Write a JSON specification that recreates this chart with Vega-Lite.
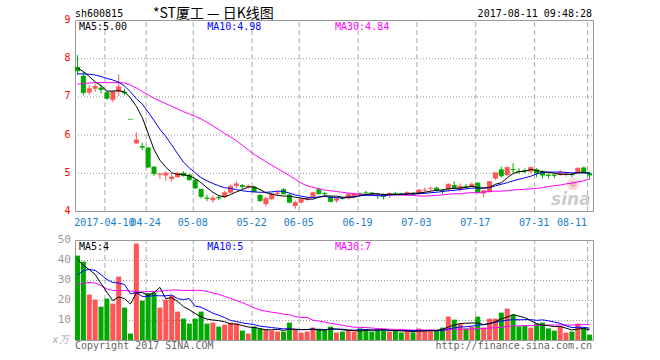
{
"$schema": "https://vega.github.io/schema/vega-lite/v6.json",
"autosize": {"type": "none"},
"width": 528,
"height": 320,
"padding": {"left": 70, "top": 20, "right": 62, "bottom": 20},
"background": "white",
"config": {
  "view": {"stroke": null},
  "font": "DejaVu Sans Mono",
  "axis": {"labelFont": "DejaVu Sans Mono", "labelFontSize": 10, "ticks": false, "domain": false}
},
"datasets": {
"grid": [
{"g":5,"lab":"2017-04-10"},{"g":12,"lab":"04-24"},{"g":20,"lab":"05-08"},{"g":30,"lab":"05-22"},{"g":38,"lab":"06-05"},
{"g":48,"lab":"06-19"},{"g":58,"lab":"07-03"},{"g":68,"lab":"07-17"},{"g":78,"lab":"07-31"},{"g":87,"lab":"08-11"}
],
"vt": [{"t":10},{"t":20},{"t":30},{"t":40},{"t":50}],
"pt": [{"p":4},{"p":5},{"p":6},{"p":7},{"p":8},{"p":9}],
"k": [
{"i":0,"o":7.77,"h":8.08,"l":7.56,"c":7.67,"dir":"d","v":42.2,"m5":7.74,"m10":7.59,"m30":7.32,"v5":40.2,"v10":32.5,"v30":27.7},
{"i":1,"o":7.54,"h":7.64,"l":7.03,"c":7.10,"dir":"d","v":39.2,"m5":7.65,"m10":7.59,"m30":7.33,"v5":37.3,"v10":34.7,"v30":28.3},
{"i":2,"o":7.10,"h":7.29,"l":7.04,"c":7.20,"dir":"u","v":22.7,"m5":7.52,"m10":7.58,"m30":7.35,"v5":35.2,"v10":35.3,"v30":28.8},
{"i":3,"o":7.20,"h":7.34,"l":7.12,"c":7.26,"dir":"u","v":20.2,"m5":7.38,"m10":7.56,"m30":7.36,"v5":32.7,"v10":34.8,"v30":28.5},
{"i":4,"o":7.23,"h":7.31,"l":7.08,"c":7.18,"dir":"d","v":16.7,"m5":7.28,"m10":7.52,"m30":7.36,"v5":28.2,"v10":32.7,"v30":27.2},
{"i":5,"o":7.11,"h":7.14,"l":6.91,"c":6.95,"dir":"d","v":20.7,"m5":7.14,"m10":7.47,"m30":7.36,"v5":23.9,"v10":30.2,"v30":25.5},
{"i":6,"o":6.91,"h":7.14,"l":6.85,"c":7.12,"dir":"u","v":18.2,"m5":7.14,"m10":7.43,"m30":7.36,"v5":19.7,"v10":28.8,"v30":24.8},
{"i":7,"o":7.12,"h":7.58,"l":7.01,"c":7.25,"dir":"u","v":31.7,"m5":7.15,"m10":7.37,"m30":7.36,"v5":21.5,"v10":28.5,"v30":24.7},
{"i":8,"o":7.12,"h":7.20,"l":7.03,"c":7.09,"dir":"d","v":16.2,"m5":7.12,"m10":7.27,"m30":7.35,"v5":20.7,"v10":27.7,"v30":24.7},
{"i":9,"o":6.40,"h":6.40,"l":6.40,"c":6.40,"dir":"d","v":3.2,"m5":6.96,"m10":7.12,"m30":7.30,"v5":18.0,"v10":23.1,"v30":24.5},
{"i":10,"o":5.77,"h":6.06,"l":5.76,"c":5.86,"dir":"u","v":48.2,"m5":6.74,"m10":6.94,"m30":7.22,"v5":23.5,"v10":23.7,"v30":24.2},
{"i":11,"o":5.70,"h":5.79,"l":5.60,"c":5.67,"dir":"d","v":19.7,"m5":6.45,"m10":6.80,"m30":7.13,"v5":23.8,"v10":21.8,"v30":24.0},
{"i":12,"o":5.66,"h":5.68,"l":5.12,"c":5.15,"dir":"d","v":23.5,"m5":6.03,"m10":6.59,"m30":7.04,"v5":22.2,"v10":21.8,"v30":24.2},
{"i":13,"o":5.16,"h":5.18,"l":4.92,"c":4.98,"dir":"d","v":23.8,"m5":5.61,"m10":6.37,"m30":6.95,"v5":23.7,"v10":22.2,"v30":24.3},
{"i":14,"o":4.95,"h":5.00,"l":4.83,"c":4.97,"dir":"u","v":16.2,"m5":5.33,"m10":6.14,"m30":6.88,"v5":26.3,"v10":22.1,"v30":24.5},
{"i":15,"o":4.93,"h":5.04,"l":4.79,"c":4.99,"dir":"u","v":20.2,"m5":5.15,"m10":5.95,"m30":6.81,"v5":20.7,"v10":22.1,"v30":24.7},
{"i":16,"o":4.84,"h":4.98,"l":4.77,"c":4.89,"dir":"u","v":22.2,"m5":5.00,"m10":5.73,"m30":6.74,"v5":21.2,"v10":22.5,"v30":25.0},
{"i":17,"o":4.89,"h":5.02,"l":4.86,"c":4.99,"dir":"u","v":14.2,"m5":4.96,"m10":5.50,"m30":6.67,"v5":19.3,"v10":20.7,"v30":25.0},
{"i":18,"o":5.00,"h":5.04,"l":4.90,"c":4.93,"dir":"d","v":10.7,"m5":4.95,"m10":5.28,"m30":6.60,"v5":16.7,"v10":20.2,"v30":24.8},
{"i":19,"o":4.95,"h":4.97,"l":4.79,"c":4.82,"dir":"d","v":8.2,"m5":4.92,"m10":5.13,"m30":6.54,"v5":15.1,"v10":20.7,"v30":24.8},
{"i":20,"o":4.82,"h":4.84,"l":4.58,"c":4.60,"dir":"d","v":10.7,"m5":4.85,"m10":5.00,"m30":6.48,"v5":13.2,"v10":16.9,"v30":24.8},
{"i":21,"o":4.58,"h":4.58,"l":4.33,"c":4.38,"dir":"d","v":14.2,"m5":4.74,"m10":4.87,"m30":6.41,"v5":11.6,"v10":16.4,"v30":24.8},
{"i":22,"o":4.35,"h":4.43,"l":4.26,"c":4.33,"dir":"d","v":8.2,"m5":4.61,"m10":4.79,"m30":6.32,"v5":10.4,"v10":14.9,"v30":24.3},
{"i":23,"o":4.28,"h":4.40,"l":4.22,"c":4.34,"dir":"u","v":8.7,"m5":4.49,"m10":4.72,"m30":6.23,"v5":10.0,"v10":13.4,"v30":23.5},
{"i":24,"o":4.36,"h":4.40,"l":4.28,"c":4.34,"dir":"d","v":6.7,"m5":4.40,"m10":4.66,"m30":6.13,"v5":9.7,"v10":12.4,"v30":22.8},
{"i":25,"o":4.36,"h":4.53,"l":4.33,"c":4.48,"dir":"u","v":7.7,"m5":4.37,"m10":4.61,"m30":6.03,"v5":9.1,"v10":11.2,"v30":21.8},
{"i":26,"o":4.48,"h":4.69,"l":4.46,"c":4.65,"dir":"u","v":8.7,"m5":4.43,"m10":4.59,"m30":5.94,"v5":8.0,"v10":9.8,"v30":20.8},
{"i":27,"o":4.66,"h":4.78,"l":4.60,"c":4.71,"dir":"u","v":8.2,"m5":4.50,"m10":4.56,"m30":5.84,"v5":8.0,"v10":9.2,"v30":19.8},
{"i":28,"o":4.68,"h":4.71,"l":4.58,"c":4.64,"dir":"d","v":4.7,"m5":4.56,"m10":4.53,"m30":5.72,"v5":7.2,"v10":8.6,"v30":18.7},
{"i":29,"o":4.62,"h":4.70,"l":4.59,"c":4.65,"dir":"u","v":3.2,"m5":4.63,"m10":4.51,"m30":5.60,"v5":6.5,"v10":8.1,"v30":17.4},
{"i":30,"o":4.64,"h":4.66,"l":4.48,"c":4.51,"dir":"d","v":6.7,"m5":4.63,"m10":4.50,"m30":5.48,"v5":6.3,"v10":7.7,"v30":16.1},
{"i":31,"o":4.42,"h":4.44,"l":4.24,"c":4.27,"dir":"d","v":5.7,"m5":4.56,"m10":4.49,"m30":5.39,"v5":5.7,"v10":6.9,"v30":15.0},
{"i":32,"o":4.18,"h":4.37,"l":4.12,"c":4.33,"dir":"u","v":5.2,"m5":4.48,"m10":4.49,"m30":5.29,"v5":5.1,"v10":6.6,"v30":14.4},
{"i":33,"o":4.31,"h":4.48,"l":4.28,"c":4.45,"dir":"u","v":4.7,"m5":4.44,"m10":4.50,"m30":5.20,"v5":5.1,"v10":6.2,"v30":13.9},
{"i":34,"o":4.45,"h":4.53,"l":4.40,"c":4.47,"dir":"u","v":4.2,"m5":4.41,"m10":4.52,"m30":5.11,"v5":5.3,"v10":5.9,"v30":13.5},
{"i":35,"o":4.57,"h":4.60,"l":4.43,"c":4.45,"dir":"d","v":4.2,"m5":4.39,"m10":4.51,"m30":5.02,"v5":4.8,"v10":5.6,"v30":12.9},
{"i":36,"o":4.43,"h":4.45,"l":4.20,"c":4.23,"dir":"d","v":8.7,"m5":4.39,"m10":4.47,"m30":4.93,"v5":5.4,"v10":5.6,"v30":12.6},
{"i":37,"o":4.13,"h":4.27,"l":4.06,"c":4.22,"dir":"u","v":5.2,"m5":4.36,"m10":4.42,"m30":4.83,"v5":5.4,"v10":5.3,"v30":11.7},
{"i":38,"o":4.22,"h":4.34,"l":4.20,"c":4.31,"dir":"u","v":3.7,"m5":4.34,"m10":4.39,"m30":4.73,"v5":5.2,"v10":5.2,"v30":11.3},
{"i":39,"o":4.30,"h":4.36,"l":4.27,"c":4.33,"dir":"u","v":4.2,"m5":4.31,"m10":4.36,"m30":4.66,"v5":5.2,"v10":5.3,"v30":11.3},
{"i":40,"o":4.37,"h":4.50,"l":4.33,"c":4.48,"dir":"u","v":6.2,"m5":4.31,"m10":4.35,"m30":4.62,"v5":5.6,"v10":5.2,"v30":9.9},
{"i":41,"o":4.57,"h":4.60,"l":4.43,"c":4.45,"dir":"d","v":5.7,"m5":4.36,"m10":4.37,"m30":4.58,"v5":5.0,"v10":5.2,"v30":9.5},
{"i":42,"o":4.47,"h":4.50,"l":4.38,"c":4.45,"dir":"d","v":5.2,"m5":4.40,"m10":4.38,"m30":4.55,"v5":5.0,"v10":5.2,"v30":8.9},
{"i":43,"o":4.37,"h":4.40,"l":4.22,"c":4.25,"dir":"d","v":6.7,"m5":4.39,"m10":4.36,"m30":4.53,"v5":5.6,"v10":5.4,"v30":8.3},
{"i":44,"o":4.27,"h":4.36,"l":4.22,"c":4.32,"dir":"u","v":3.7,"m5":4.39,"m10":4.35,"m30":4.51,"v5":5.5,"v10":5.4,"v30":7.9},
{"i":45,"o":4.35,"h":4.37,"l":4.30,"c":4.33,"dir":"d","v":4.2,"m5":4.36,"m10":4.34,"m30":4.49,"v5":5.1,"v10":5.4,"v30":7.4},
{"i":46,"o":4.33,"h":4.48,"l":4.30,"c":4.44,"dir":"u","v":4.8,"m5":4.36,"m10":4.36,"m30":4.47,"v5":4.9,"v10":5.0,"v30":6.8},
{"i":47,"o":4.39,"h":4.48,"l":4.35,"c":4.46,"dir":"u","v":4.2,"m5":4.36,"m10":4.38,"m30":4.45,"v5":4.7,"v10":4.9,"v30":6.4},
{"i":48,"o":4.46,"h":4.48,"l":4.40,"c":4.44,"dir":"d","v":5.8,"m5":4.40,"m10":4.40,"m30":4.44,"v5":4.5,"v10":5.1,"v30":6.3},
{"i":49,"o":4.48,"h":4.53,"l":4.42,"c":4.47,"dir":"d","v":5.5,"m5":4.43,"m10":4.41,"m30":4.43,"v5":4.9,"v10":5.2,"v30":6.2},
{"i":50,"o":4.48,"h":4.50,"l":4.42,"c":4.44,"dir":"d","v":4.2,"m5":4.45,"m10":4.41,"m30":4.42,"v5":4.9,"v10":5.0,"v30":6.0},
{"i":51,"o":4.45,"h":4.47,"l":4.32,"c":4.43,"dir":"d","v":5.2,"m5":4.45,"m10":4.40,"m30":4.42,"v5":5.0,"v10":5.0,"v30":5.7},
{"i":52,"o":4.42,"h":4.46,"l":4.30,"c":4.38,"dir":"d","v":5.2,"m5":4.43,"m10":4.40,"m30":4.42,"v5":5.2,"v10":5.0,"v30":5.6},
{"i":53,"o":4.41,"h":4.48,"l":4.35,"c":4.46,"dir":"u","v":4.2,"m5":4.44,"m10":4.42,"m30":4.42,"v5":4.9,"v10":4.7,"v30":5.4},
{"i":54,"o":4.47,"h":4.50,"l":4.43,"c":4.45,"dir":"d","v":4.5,"m5":4.43,"m10":4.43,"m30":4.42,"v5":4.7,"v10":4.8,"v30":5.3},
{"i":55,"o":4.46,"h":4.48,"l":4.42,"c":4.44,"dir":"d","v":3.8,"m5":4.43,"m10":4.44,"m30":4.42,"v5":4.6,"v10":4.7,"v30":5.2},
{"i":56,"o":4.44,"h":4.51,"l":4.42,"c":4.49,"dir":"u","v":4.8,"m5":4.44,"m10":4.45,"m30":4.41,"v5":4.5,"v10":4.7,"v30":5.1},
{"i":57,"o":4.48,"h":4.49,"l":4.43,"c":4.44,"dir":"d","v":3.8,"m5":4.46,"m10":4.44,"m30":4.41,"v5":4.2,"v10":4.7,"v30":4.9},
{"i":58,"o":4.44,"h":4.57,"l":4.42,"c":4.55,"dir":"u","v":5.7,"m5":4.47,"m10":4.46,"m30":4.39,"v5":4.5,"v10":4.7,"v30":5.0},
{"i":59,"o":4.54,"h":4.61,"l":4.48,"c":4.55,"dir":"u","v":4.8,"m5":4.49,"m10":4.46,"m30":4.39,"v5":4.6,"v10":4.6,"v30":5.0},
{"i":60,"o":4.58,"h":4.64,"l":4.53,"c":4.59,"dir":"u","v":4.8,"m5":4.52,"m10":4.48,"m30":4.40,"v5":4.8,"v10":4.7,"v30":5.0},
{"i":61,"o":4.61,"h":4.64,"l":4.51,"c":4.55,"dir":"d","v":4.8,"m5":4.54,"m10":4.49,"m30":4.41,"v5":4.8,"v10":4.6,"v30":4.9},
{"i":62,"o":4.54,"h":4.57,"l":4.44,"c":4.53,"dir":"d","v":6.2,"m5":4.55,"m10":4.51,"m30":4.42,"v5":5.3,"v10":4.7,"v30":5.0},
{"i":63,"o":4.57,"h":4.72,"l":4.51,"c":4.70,"dir":"u","v":11.7,"m5":4.58,"m10":4.53,"m30":4.44,"v5":6.5,"v10":5.5,"v30":5.2},
{"i":64,"o":4.68,"h":4.77,"l":4.57,"c":4.59,"dir":"d","v":10.2,"m5":4.59,"m10":4.54,"m30":4.45,"v5":7.5,"v10":6.1,"v30":5.4},
{"i":65,"o":4.55,"h":4.72,"l":4.51,"c":4.65,"dir":"u","v":8.2,"m5":4.60,"m10":4.56,"m30":4.45,"v5":8.2,"v10":6.5,"v30":5.5},
{"i":66,"o":4.65,"h":4.71,"l":4.57,"c":4.63,"dir":"d","v":5.8,"m5":4.62,"m10":4.58,"m30":4.47,"v5":8.4,"v10":6.6,"v30":5.4},
{"i":67,"o":4.64,"h":4.75,"l":4.63,"c":4.70,"dir":"u","v":6.5,"m5":4.65,"m10":4.60,"m30":4.48,"v5":8.5,"v10":6.9,"v30":5.5},
{"i":68,"o":4.74,"h":4.75,"l":4.47,"c":4.48,"dir":"d","v":11.7,"m5":4.61,"m10":4.60,"m30":4.48,"v5":8.5,"v10":7.5,"v30":5.7},
{"i":69,"o":4.46,"h":4.55,"l":4.36,"c":4.53,"dir":"u","v":6.2,"m5":4.60,"m10":4.60,"m30":4.50,"v5":7.7,"v10":7.6,"v30":5.8},
{"i":70,"o":4.51,"h":4.78,"l":4.48,"c":4.77,"dir":"u","v":10.7,"m5":4.62,"m10":4.61,"m30":4.51,"v5":8.2,"v10":8.2,"v30":6.0},
{"i":71,"o":4.85,"h":5.00,"l":4.81,"c":5.00,"dir":"u","v":10.7,"m5":4.70,"m10":4.66,"m30":4.52,"v5":9.2,"v10":8.8,"v30":6.1},
{"i":72,"o":5.09,"h":5.16,"l":4.88,"c":4.92,"dir":"d","v":13.7,"m5":4.74,"m10":4.70,"m30":4.52,"v5":10.6,"v10":9.5,"v30":6.4},
{"i":73,"o":4.94,"h":5.16,"l":4.92,"c":5.14,"dir":"u","v":15.7,"m5":4.87,"m10":4.74,"m30":4.53,"v5":11.4,"v10":9.9,"v30":6.7},
{"i":74,"o":5.10,"h":5.25,"l":4.99,"c":5.08,"dir":"d","v":12.7,"m5":4.98,"m10":4.79,"m30":4.55,"v5":12.7,"v10":10.2,"v30":7.0},
{"i":75,"o":5.05,"h":5.12,"l":4.97,"c":5.03,"dir":"d","v":6.8,"m5":5.03,"m10":4.83,"m30":4.56,"v5":11.9,"v10":10.1,"v30":7.1},
{"i":76,"o":5.07,"h":5.12,"l":4.99,"c":5.05,"dir":"d","v":7.2,"m5":5.04,"m10":4.87,"m30":4.57,"v5":11.2,"v10":10.2,"v30":7.2},
{"i":77,"o":5.03,"h":5.16,"l":5.00,"c":5.14,"dir":"u","v":6.2,"m5":5.09,"m10":4.91,"m30":4.58,"v5":9.7,"v10":10.2,"v30":7.2},
{"i":78,"o":5.09,"h":5.12,"l":4.88,"c":4.99,"dir":"d","v":8.2,"m5":5.06,"m10":4.97,"m30":4.59,"v5":8.2,"v10":9.8,"v30":7.3},
{"i":79,"o":5.03,"h":5.07,"l":4.85,"c":4.94,"dir":"d","v":8.7,"m5":5.03,"m10":5.01,"m30":4.61,"v5":7.4,"v10":10.1,"v30":7.4},
{"i":80,"o":4.95,"h":4.99,"l":4.85,"c":4.93,"dir":"d","v":5.8,"m5":5.01,"m10":5.02,"m30":4.64,"v5":7.2,"v10":9.6,"v30":7.5},
{"i":81,"o":4.95,"h":4.99,"l":4.86,"c":4.93,"dir":"d","v":4.7,"m5":4.99,"m10":5.02,"m30":4.66,"v5":6.7,"v10":9.0,"v30":7.5},
{"i":82,"o":4.94,"h":5.07,"l":4.92,"c":5.01,"dir":"u","v":6.8,"m5":4.96,"m10":5.02,"m30":4.68,"v5":6.8,"v10":8.3,"v30":7.5},
{"i":83,"o":4.96,"h":5.03,"l":4.90,"c":4.98,"dir":"u","v":3.7,"m5":4.96,"m10":5.01,"m30":4.71,"v5":5.9,"v10":7.1,"v30":7.5},
{"i":84,"o":4.97,"h":5.00,"l":4.88,"c":4.95,"dir":"d","v":4.2,"m5":4.96,"m10":5.00,"m30":4.73,"v5":5.0,"v10":6.2,"v30":7.5},
{"i":85,"o":5.00,"h":5.14,"l":4.99,"c":5.12,"dir":"u","v":8.2,"m5":5.00,"m10":5.00,"m30":4.76,"v5":5.5,"v10":6.4,"v30":7.6},
{"i":86,"o":5.14,"h":5.16,"l":4.99,"c":5.00,"dir":"d","v":6.2,"m5":5.01,"m10":5.00,"m30":4.79,"v5":5.8,"v10":6.3,"v30":7.7},
{"i":87,"o":4.99,"h":5.03,"l":4.83,"c":4.94,"dir":"d","v":2.7,"m5":5.00,"m10":4.98,"m30":4.84,"v5":5.0,"v10":5.9,"v30":7.7}
]},
"resolve": {"scale": {"y": "independent"}},
"layer": [
{
  "layer": [
    {"data": {"name": "grid"},
     "mark": {"type": "rule", "color": "#aaaaaa", "strokeDash": [5, 3], "strokeWidth": 1, "xOffset": 0.5},
     "encoding": {
       "x": {"field": "g", "type": "quantitative", "scale": {"domain": [0, 88], "nice": false, "zero": false}, "axis": null},
       "y": {"datum": 4, "type": "quantitative", "scale": {"domain": [0.6230366, 9], "nice": false, "zero": false}, "axis": null},
       "y2": {"datum": 9}
     }},
    {"data": {"name": "pt"},
     "transform": [{"filter": "datum.p > 4 && datum.p < 9"}],
     "mark": {"type": "rule", "color": "#999999", "strokeDash": [1, 2], "strokeWidth": 1, "yOffset": 0.5},
     "encoding": {
       "x": {"datum": 0, "type": "quantitative", "scale": {"domain": [0, 88], "nice": false, "zero": false}, "axis": null},
       "x2": {"datum": 88},
       "y": {"field": "p", "type": "quantitative", "scale": {"domain": [0.6230366, 9], "nice": false, "zero": false}, "axis": null}
     }},
    {"data": {"name": "pt"},
     "mark": {"type": "text", "align": "right", "baseline": "middle", "fontSize": 10, "font": "DejaVu Sans Mono", "color": "#ff0000"},
     "encoding": {
       "x": {"datum": -0.75, "type": "quantitative", "scale": {"domain": [0, 88], "nice": false, "zero": false}, "axis": null},
       "y": {"field": "p", "type": "quantitative", "scale": {"domain": [0.6230366, 9], "nice": false, "zero": false}, "axis": null},
       "text": {"field": "p", "type": "quantitative"}
     }},
    {"data": {"values": [{}]},
     "mark": {"type": "rect", "fill": null, "fillOpacity": 0, "stroke": "#999999", "strokeWidth": 1, "xOffset": 0.5, "x2Offset": 0.5, "yOffset": 0.5, "y2Offset": 0.5},
     "encoding": {
       "x": {"datum": 0, "type": "quantitative", "scale": {"domain": [0, 88], "nice": false, "zero": false}, "axis": null},
       "x2": {"datum": 88},
       "y": {"datum": 4, "type": "quantitative", "scale": {"domain": [0.6230366, 9], "nice": false, "zero": false}, "axis": null},
       "y2": {"datum": 9}
     }},
    {"data": {"values": [{}]},
     "layer": [
       {"mark": {"type": "text", "align": "center", "baseline": "middle", "fontSize": 15, "font": "DejaVu Sans", "color": "#f3b3b3", "text": "◉"},
        "encoding": {"x": {"datum": 84.6, "type": "quantitative", "scale": {"domain": [0, 88], "nice": false, "zero": false}, "axis": null},
                     "y": {"datum": 4.72, "type": "quantitative", "scale": {"domain": [0.6230366, 9], "nice": false, "zero": false}, "axis": null}}},
       {"mark": {"type": "text", "align": "right", "baseline": "alphabetic", "fontSize": 17, "font": "DejaVu Sans", "fontWeight": "bold", "fontStyle": "italic", "color": "#cccccc", "text": "sina"},
        "encoding": {"x": {"datum": 87.6, "type": "quantitative", "scale": {"domain": [0, 88], "nice": false, "zero": false}, "axis": null},
                     "y": {"datum": 4.16, "type": "quantitative", "scale": {"domain": [0.6230366, 9], "nice": false, "zero": false}, "axis": null}}}
     ]},
    {"data": {"name": "k"},
     "mark": {"type": "rule", "xOffset": 2.5, "strokeWidth": 1},
     "encoding": {
       "x": {"field": "i", "type": "quantitative", "scale": {"domain": [0, 88], "nice": false, "zero": false}, "axis": null},
       "y": {"field": "l", "type": "quantitative", "scale": {"domain": [0.6230366, 9], "nice": false, "zero": false}, "axis": null},
       "y2": {"field": "h"},
       "color": {"field": "dir", "type": "nominal", "scale": {"domain": ["u", "d"], "range": ["#ff5555", "#00a800"]}, "legend": null}
     }},
    {"data": {"name": "k"},
     "mark": {"type": "bar", "width": 5, "xOffset": 2.5},
     "encoding": {
       "x": {"field": "i", "type": "quantitative", "scale": {"domain": [0, 88], "nice": false, "zero": false}, "axis": null},
       "y": {"field": "o", "type": "quantitative", "scale": {"domain": [0.6230366, 9], "nice": false, "zero": false}, "axis": null},
       "y2": {"field": "c"},
       "color": {"field": "dir", "type": "nominal", "scale": {"domain": ["u", "d"], "range": ["#ff5555", "#00a800"]}, "legend": null}
     }},
    {"data": {"name": "k"},
     "mark": {"type": "tick", "orient": "horizontal", "size": 5, "thickness": 1, "xOffset": 2.5},
     "encoding": {
       "x": {"field": "i", "type": "quantitative", "scale": {"domain": [0, 88], "nice": false, "zero": false}, "axis": null},
       "y": {"field": "c", "type": "quantitative", "scale": {"domain": [0.6230366, 9], "nice": false, "zero": false}, "axis": null},
       "color": {"field": "dir", "type": "nominal", "scale": {"domain": ["u", "d"], "range": ["#ff5555", "#00a800"]}, "legend": null}
     }},
    {"data": {"name": "k"},
     "mark": {"type": "line", "color": "#ff00ff", "strokeWidth": 1, "xOffset": 2.5},
     "encoding": {
       "x": {"field": "i", "type": "quantitative", "scale": {"domain": [0, 88], "nice": false, "zero": false}, "axis": null},
       "y": {"field": "m30", "type": "quantitative", "scale": {"domain": [0.6230366, 9], "nice": false, "zero": false}, "axis": null}
     }},
    {"data": {"name": "k"},
     "mark": {"type": "line", "color": "#0000ff", "strokeWidth": 1, "xOffset": 2.5},
     "encoding": {
       "x": {"field": "i", "type": "quantitative", "scale": {"domain": [0, 88], "nice": false, "zero": false}, "axis": null},
       "y": {"field": "m10", "type": "quantitative", "scale": {"domain": [0.6230366, 9], "nice": false, "zero": false}, "axis": null}
     }},
    {"data": {"name": "k"},
     "mark": {"type": "line", "color": "#000000", "strokeWidth": 1, "xOffset": 2.5},
     "encoding": {
       "x": {"field": "i", "type": "quantitative", "scale": {"domain": [0, 88], "nice": false, "zero": false}, "axis": null},
       "y": {"field": "m5", "type": "quantitative", "scale": {"domain": [0.6230366, 9], "nice": false, "zero": false}, "axis": null}
     }},
    {"data": {"name": "grid"},
     "transform": [{"filter": "datum.g < 87"}],
     "mark": {"type": "text", "align": "center", "baseline": "alphabetic", "fontSize": 10, "font": "DejaVu Sans Mono", "color": "#1a7dc8"},
     "encoding": {
       "x": {"field": "g", "type": "quantitative", "scale": {"domain": [0, 88], "nice": false, "zero": false}, "axis": null},
       "y": {"datum": 3.62, "type": "quantitative", "scale": {"domain": [0.6230366, 9], "nice": false, "zero": false}, "axis": null},
       "text": {"field": "lab", "type": "nominal"}
     }},
    {"data": {"name": "grid"},
     "transform": [{"filter": "datum.g == 87"}],
     "mark": {"type": "text", "align": "right", "baseline": "alphabetic", "fontSize": 10, "font": "DejaVu Sans Mono", "color": "#1a7dc8"},
     "encoding": {
       "x": {"field": "g", "type": "quantitative", "scale": {"domain": [0, 88], "nice": false, "zero": false}, "axis": null},
       "y": {"datum": 3.62, "type": "quantitative", "scale": {"domain": [0.6230366, 9], "nice": false, "zero": false}, "axis": null},
       "text": {"field": "lab", "type": "nominal"}
     }},
    {"data": {"values": [{}]},
     "layer": [
       {"mark": {"type": "text", "align": "left", "baseline": "alphabetic", "fontSize": 10, "font": "DejaVu Sans Mono", "color": "#000000", "text": "sh600815"},
        "encoding": {"x": {"datum": 0, "type": "quantitative", "scale": {"domain": [0, 88], "nice": false, "zero": false}, "axis": null},
                     "y": {"datum": 9.08, "type": "quantitative", "scale": {"domain": [0.6230366, 9], "nice": false, "zero": false}, "axis": null}}},
       {"mark": {"type": "text", "align": "center", "baseline": "alphabetic", "fontSize": 14, "font": "Noto Sans CJK SC", "color": "#000000", "text": "*ST厦工 — 日K线图"},
        "encoding": {"x": {"datum": 23.5, "type": "quantitative", "scale": {"domain": [0, 88], "nice": false, "zero": false}, "axis": null},
                     "y": {"datum": 9.06, "type": "quantitative", "scale": {"domain": [0.6230366, 9], "nice": false, "zero": false}, "axis": null}}},
       {"mark": {"type": "text", "align": "right", "baseline": "alphabetic", "fontSize": 10, "font": "DejaVu Sans Mono", "color": "#000000", "text": "2017-08-11 09:48:28"},
        "encoding": {"x": {"datum": 87.83, "type": "quantitative", "scale": {"domain": [0, 88], "nice": false, "zero": false}, "axis": null},
                     "y": {"datum": 9.08, "type": "quantitative", "scale": {"domain": [0.6230366, 9], "nice": false, "zero": false}, "axis": null}}},
       {"mark": {"type": "text", "align": "left", "baseline": "alphabetic", "fontSize": 10, "font": "DejaVu Sans Mono", "color": "#000000", "text": "MA5:5.00"},
        "encoding": {"x": {"datum": 0.67, "type": "quantitative", "scale": {"domain": [0, 88], "nice": false, "zero": false}, "axis": null},
                     "y": {"datum": 8.74, "type": "quantitative", "scale": {"domain": [0.6230366, 9], "nice": false, "zero": false}, "axis": null}}},
       {"mark": {"type": "text", "align": "left", "baseline": "alphabetic", "fontSize": 10, "font": "DejaVu Sans Mono", "color": "#0000ff", "text": "MA10:4.98"},
        "encoding": {"x": {"datum": 22.45, "type": "quantitative", "scale": {"domain": [0, 88], "nice": false, "zero": false}, "axis": null},
                     "y": {"datum": 8.74, "type": "quantitative", "scale": {"domain": [0.6230366, 9], "nice": false, "zero": false}, "axis": null}}},
       {"mark": {"type": "text", "align": "left", "baseline": "alphabetic", "fontSize": 10, "font": "DejaVu Sans Mono", "color": "#ff00ff", "text": "MA30:4.84"},
        "encoding": {"x": {"datum": 44.17, "type": "quantitative", "scale": {"domain": [0, 88], "nice": false, "zero": false}, "axis": null},
                     "y": {"datum": 8.74, "type": "quantitative", "scale": {"domain": [0.6230366, 9], "nice": false, "zero": false}, "axis": null}}}
     ]}
  ]
},
{
  "layer": [
    {"data": {"name": "grid"},
     "mark": {"type": "rule", "color": "#aaaaaa", "strokeDash": [5, 3], "strokeWidth": 1, "xOffset": 0.5},
     "encoding": {
       "x": {"field": "g", "type": "quantitative", "scale": {"domain": [0, 88], "nice": false, "zero": false}, "axis": null},
       "y": {"datum": 0, "type": "quantitative", "scale": {"domain": [0, 160], "nice": false, "zero": false}, "axis": null},
       "y2": {"datum": 50}
     }},
    {"data": {"name": "vt"},
     "transform": [{"filter": "datum.t < 50"}],
     "mark": {"type": "rule", "color": "#999999", "strokeDash": [1, 2], "strokeWidth": 1, "yOffset": 0.5},
     "encoding": {
       "x": {"datum": 0, "type": "quantitative", "scale": {"domain": [0, 88], "nice": false, "zero": false}, "axis": null},
       "x2": {"datum": 88},
       "y": {"field": "t", "type": "quantitative", "scale": {"domain": [0, 160], "nice": false, "zero": false}, "axis": null}
     }},
    {"data": {"values": [{}]},
     "mark": {"type": "rect", "fill": null, "fillOpacity": 0, "stroke": "#999999", "strokeWidth": 1, "xOffset": 0.5, "x2Offset": 0.5, "yOffset": 0.5, "y2Offset": 0.5},
     "encoding": {
       "x": {"datum": 0, "type": "quantitative", "scale": {"domain": [0, 88], "nice": false, "zero": false}, "axis": null},
       "x2": {"datum": 88},
       "y": {"datum": 0, "type": "quantitative", "scale": {"domain": [0, 160], "nice": false, "zero": false}, "axis": null},
       "y2": {"datum": 50}
     }},
    {"data": {"name": "k"},
     "mark": {"type": "bar", "width": 5, "xOffset": 2.5},
     "encoding": {
       "x": {"field": "i", "type": "quantitative", "scale": {"domain": [0, 88], "nice": false, "zero": false}, "axis": null},
       "y": {"field": "v", "type": "quantitative", "scale": {"domain": [0, 160], "nice": false, "zero": false}, "axis": null},
       "color": {"field": "dir", "type": "nominal", "scale": {"domain": ["u", "d"], "range": ["#ff5555", "#00a800"]}, "legend": null}
     }},
    {"data": {"name": "k"},
     "mark": {"type": "line", "color": "#ff00ff", "strokeWidth": 1, "xOffset": 2.5},
     "encoding": {
       "x": {"field": "i", "type": "quantitative", "scale": {"domain": [0, 88], "nice": false, "zero": false}, "axis": null},
       "y": {"field": "v30", "type": "quantitative", "scale": {"domain": [0, 160], "nice": false, "zero": false}, "axis": null}
     }},
    {"data": {"name": "k"},
     "mark": {"type": "line", "color": "#0000ff", "strokeWidth": 1, "xOffset": 2.5},
     "encoding": {
       "x": {"field": "i", "type": "quantitative", "scale": {"domain": [0, 88], "nice": false, "zero": false}, "axis": null},
       "y": {"field": "v10", "type": "quantitative", "scale": {"domain": [0, 160], "nice": false, "zero": false}, "axis": null}
     }},
    {"data": {"name": "k"},
     "mark": {"type": "line", "color": "#000000", "strokeWidth": 1, "xOffset": 2.5},
     "encoding": {
       "x": {"field": "i", "type": "quantitative", "scale": {"domain": [0, 88], "nice": false, "zero": false}, "axis": null},
       "y": {"field": "v5", "type": "quantitative", "scale": {"domain": [0, 160], "nice": false, "zero": false}, "axis": null}
     }},
    {"data": {"name": "vt"},
     "mark": {"type": "text", "align": "right", "baseline": "middle", "fontSize": 11, "font": "DejaVu Sans Mono", "color": "#999999"},
     "encoding": {
       "x": {"datum": -0.7, "type": "quantitative", "scale": {"domain": [0, 88], "nice": false, "zero": false}, "axis": null},
       "y": {"field": "t", "type": "quantitative", "scale": {"domain": [0, 160], "nice": false, "zero": false}, "axis": null},
       "text": {"field": "t", "type": "quantitative"}
     }},
    {"data": {"values": [{}]},
     "layer": [
       {"mark": {"type": "text", "align": "left", "baseline": "alphabetic", "fontSize": 10, "font": "DejaVu Sans Mono", "color": "#000000", "text": "MA5:4"},
        "encoding": {"x": {"datum": 0.67, "type": "quantitative", "scale": {"domain": [0, 88], "nice": false, "zero": false}, "axis": null},
                     "y": {"datum": 45, "type": "quantitative", "scale": {"domain": [0, 160], "nice": false, "zero": false}, "axis": null}}},
       {"mark": {"type": "text", "align": "left", "baseline": "alphabetic", "fontSize": 10, "font": "DejaVu Sans Mono", "color": "#0000ff", "text": "MA10:5"},
        "encoding": {"x": {"datum": 22.45, "type": "quantitative", "scale": {"domain": [0, 88], "nice": false, "zero": false}, "axis": null},
                     "y": {"datum": 45, "type": "quantitative", "scale": {"domain": [0, 160], "nice": false, "zero": false}, "axis": null}}},
       {"mark": {"type": "text", "align": "left", "baseline": "alphabetic", "fontSize": 10, "font": "DejaVu Sans Mono", "color": "#ff00ff", "text": "MA30:7"},
        "encoding": {"x": {"datum": 44.17, "type": "quantitative", "scale": {"domain": [0, 88], "nice": false, "zero": false}, "axis": null},
                     "y": {"datum": 45, "type": "quantitative", "scale": {"domain": [0, 160], "nice": false, "zero": false}, "axis": null}}},
       {"mark": {"type": "text", "align": "right", "baseline": "alphabetic", "fontSize": 10, "font": "DejaVu Sans", "fontStyle": "italic", "color": "#aaaaaa", "text": "x万"},
        "encoding": {"x": {"datum": -1.1, "type": "quantitative", "scale": {"domain": [0, 88], "nice": false, "zero": false}, "axis": null},
                     "y": {"datum": -1.5, "type": "quantitative", "scale": {"domain": [0, 160], "nice": false, "zero": false}, "axis": null}}},
       {"mark": {"type": "text", "align": "left", "baseline": "alphabetic", "fontSize": 10, "font": "DejaVu Sans Mono", "color": "#666666", "text": "Copyright 2017 SINA.COM"},
        "encoding": {"x": {"datum": 0, "type": "quantitative", "scale": {"domain": [0, 88], "nice": false, "zero": false}, "axis": null},
                     "y": {"datum": -4.4, "type": "quantitative", "scale": {"domain": [0, 160], "nice": false, "zero": false}, "axis": null}}},
       {"mark": {"type": "text", "align": "right", "baseline": "alphabetic", "fontSize": 10, "font": "DejaVu Sans Mono", "color": "#666666", "text": "http://finance.sina.com.cn"},
        "encoding": {"x": {"datum": 87.83, "type": "quantitative", "scale": {"domain": [0, 88], "nice": false, "zero": false}, "axis": null},
                     "y": {"datum": -4.4, "type": "quantitative", "scale": {"domain": [0, 160], "nice": false, "zero": false}, "axis": null}}}
     ]}
  ]
}
]
}
